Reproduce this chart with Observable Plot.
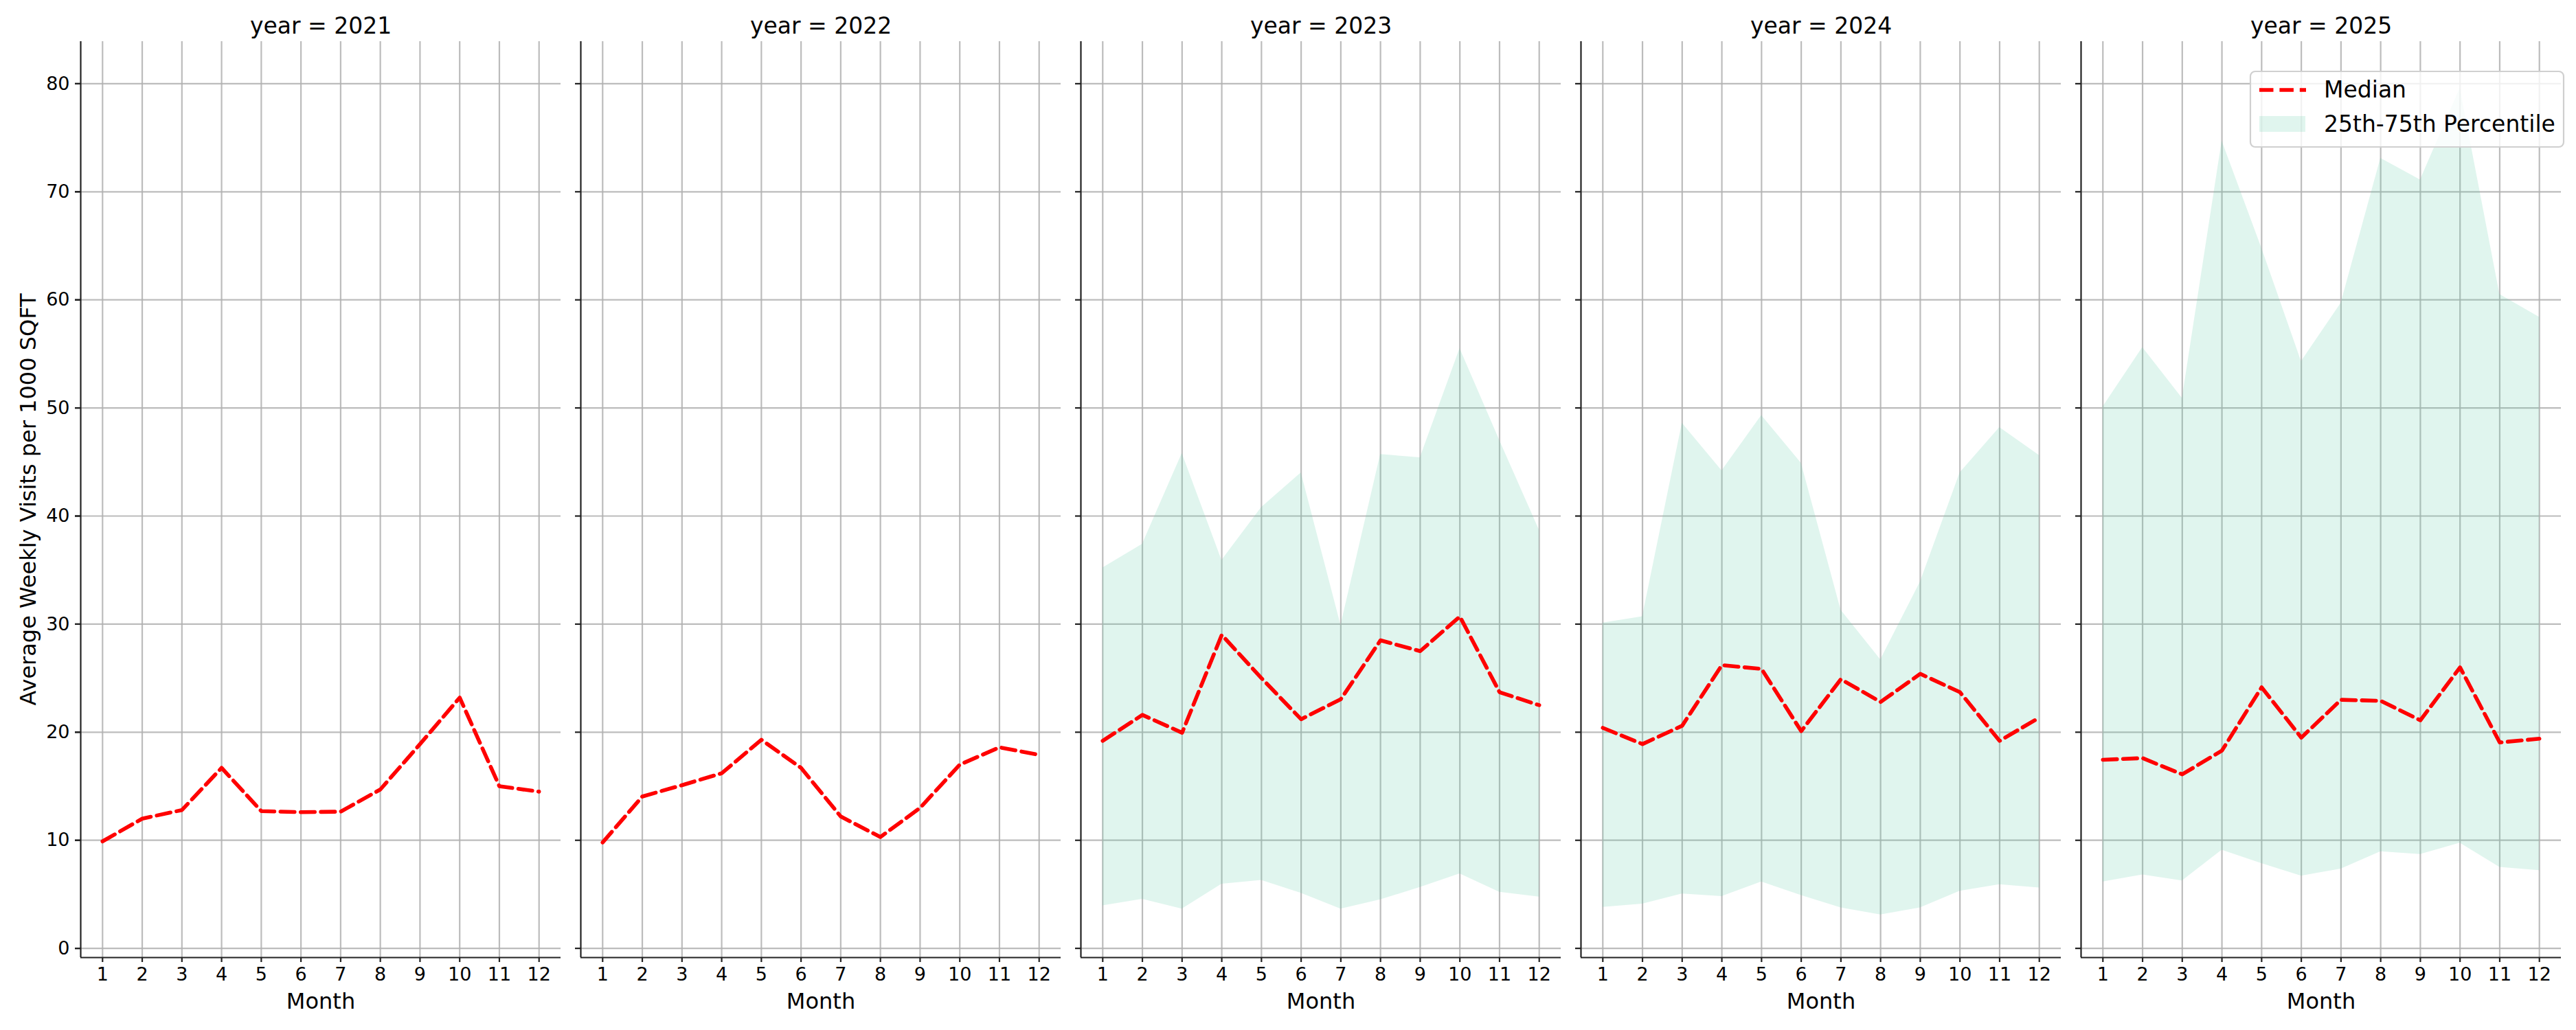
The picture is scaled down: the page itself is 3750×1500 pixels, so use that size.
<!DOCTYPE html>
<html>
<head>
<meta charset="utf-8">
<script src="https://cdn.jsdelivr.net/npm/d3@7"></script>
<script src="https://cdn.jsdelivr.net/npm/@observablehq/plot@0.6"></script>
<style>
  html, body { margin: 0; padding: 0; background: #fff; }
  #chart { width: 3750px; height: 1500px; }
</style>
</head>
<body>
<div id="chart"></div>
<script>
const years = [2021, 2022, 2023, 2024, 2025];
const months = [1, 2, 3, 4, 5, 6, 7, 8, 9, 10, 11, 12];
const yTicks = [0, 10, 20, 30, 40, 50, 60, 70, 80];

const median2021 = [9.9, 12.0, 12.8, 16.7, 12.7, 12.6, 12.65, 14.7, 18.9, 23.2, 15.0, 14.5];
const median2022 = [9.8, 14.05, 15.1, 16.2, 19.3, 16.7, 12.2, 10.3, 13.0, 17.0, 18.6, 17.9];
const median2023 = [19.2, 21.6, 19.95, 29.0, 25.0, 21.2, 23.05, 28.5, 27.5, 30.7, 23.7, 22.5];
const median2024 = [20.4, 18.9, 20.6, 26.2, 25.85, 20.1, 24.9, 22.8, 25.4, 23.7, 19.2, 21.35];
const median2025 = [17.45, 17.6, 16.1, 18.3, 24.15, 19.5, 23.0, 22.9, 21.1, 26.0, 19.05, 19.4];

const p25_2023 = [3.95, 4.55, 3.65, 5.95, 6.3, 5.1, 3.65, 4.5, 5.65, 6.9, 5.2, 4.75];
const p75_2023 = [35.2, 37.4, 45.8, 35.9, 40.8, 44.0, 29.9, 45.7, 45.4, 55.5, 47.0, 38.7];
const p25_2024 = [3.8, 4.1, 5.05, 4.8, 6.15, 4.9, 3.75, 3.1, 3.75, 5.3, 5.9, 5.6];
const p75_2024 = [30.1, 30.7, 48.6, 44.2, 49.3, 44.9, 31.3, 26.7, 33.9, 44.0, 48.2, 45.6];
const p25_2025 = [6.15, 6.8, 6.25, 9.1, 7.85, 6.7, 7.35, 8.95, 8.7, 9.75, 7.5, 7.2];
const p75_2025 = [50.1, 55.6, 50.9, 74.7, 64.8, 54.3, 59.7, 73.1, 71.1, 79.6, 60.5, 58.4];

const medians = {2021: median2021, 2022: median2022, 2023: median2023, 2024: median2024, 2025: median2025};
const bands = {2023: [p25_2023, p75_2023], 2024: [p25_2024, p75_2024], 2025: [p25_2025, p75_2025]};

const lineRows = [];
for (const y of years) months.forEach((m, i) => lineRows.push({year: y, month: m, median: medians[y][i]}));
const bandRows = [];
for (const y of [2023, 2024, 2025]) months.forEach((m, i) => bandRows.push({year: y, month: m, p25: bands[y][0][i], p75: bands[y][1][i]}));

const FILL = "mediumaquamarine";
const DASH = "20.5,8.9";

const chart = Plot.plot({
  width: 3750,
  height: 1500,
  marginTop: 60,
  marginBottom: 106,
  marginLeft: 115,
  marginRight: 21,
  style: {fontFamily: "DejaVu Sans", fontSize: "27px", background: "#fff", color: "#000", overflow: "visible"},
  fx: {domain: years, paddingInner: 0.04, paddingOuter: 0, axis: null},
  x: {domain: [0.45, 12.55]},
  y: {domain: [-0.85, 83.9]},
  marks: [
    Plot.gridX({ticks: months, stroke: "#b0b0b0", strokeOpacity: 0.85, strokeWidth: 2.2}),
    Plot.gridY({ticks: yTicks, stroke: "#b0b0b0", strokeOpacity: 0.85, strokeWidth: 2.2}),
    Plot.areaY(bandRows, {fx: "year", x: "month", y1: "p25", y2: "p75", fill: FILL, fillOpacity: 0.2}),
    Plot.line(lineRows, {fx: "year", x: "month", y: "median", stroke: "red", strokeWidth: 5.6, strokeDasharray: DASH}),
    Plot.ruleX([0.45], {stroke: "#222", strokeWidth: 2.2}),
    Plot.ruleY([-0.85], {stroke: "#222", strokeWidth: 2.2}),
    Plot.axisX({ticks: months, tickSize: 7, tickPadding: 7, fontSize: 27, strokeWidth: 2.2, stroke: "#222", label: null}),
    Plot.axisY({ticks: yTicks, tickSize: 8, tickPadding: 8, fontSize: 27, strokeWidth: 2.2, stroke: "#222", label: null}),
    Plot.axisY({ticks: yTicks, tickSize: 8, tickFormat: () => "", strokeWidth: 2.2, stroke: "#222", label: null, facetAnchor: null}),
    Plot.text(["Month"], {frameAnchor: "bottom", dy: 52, lineAnchor: "top", fontSize: 32, fill: "#000"}),
    Plot.text(years, {fx: d => d, text: d => `year = ${d}`, frameAnchor: "top", dy: -35.4, lineAnchor: "top", fontSize: 33, fill: "#000"}),
    Plot.text(["Average Weekly Visits per 1000 SQFT"], {fx: () => 2021, frameAnchor: "left", textAnchor: "middle", lineAnchor: "middle", dx: -76, rotate: -90, fontSize: 32, fill: "#000"})
  ]
});

// Legend inside the last panel (upper right)
const svg = d3.select(chart);
const lg = svg.append("g").attr("font-family", "DejaVu Sans").attr("text-anchor", "start");
lg.append("rect").attr("x", 3276).attr("y", 104).attr("width", 456).attr("height", 110).attr("rx", 7)
  .attr("fill", "#fff").attr("fill-opacity", 0.8).attr("stroke", "#d0d0d0").attr("stroke-width", 2.2);
lg.append("line").attr("x1", 3289).attr("x2", 3357).attr("y1", 131).attr("y2", 131)
  .attr("stroke", "red").attr("stroke-width", 5.6).attr("stroke-dasharray", DASH);
lg.append("rect").attr("x", 3289).attr("y", 169).attr("width", 67).attr("height", 23)
  .attr("fill", FILL).attr("fill-opacity", 0.2);
lg.append("text").attr("x", 3383).attr("y", 142).attr("font-size", 33).attr("fill", "#000").attr("text-anchor", "start").text("Median");
lg.append("text").attr("x", 3383).attr("y", 192).attr("font-size", 33).attr("fill", "#000").attr("text-anchor", "start").text("25th-75th Percentile");

document.getElementById("chart").appendChild(chart);
</script>
</body>
</html>
